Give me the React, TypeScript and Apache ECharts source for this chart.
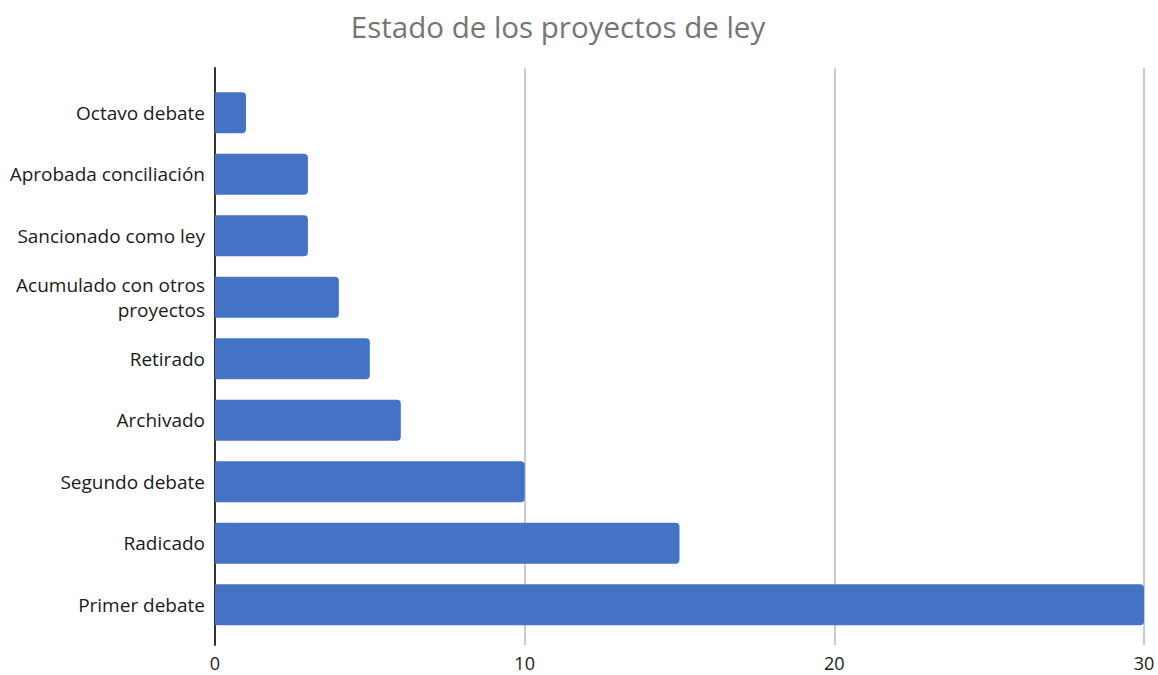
import React, { useEffect, useRef } from "react";
import * as echarts from "echarts";

const categories = [
  "Octavo debate",
  "Aprobada conciliación",
  "Sancionado como ley",
  "Acumulado con otros\nproyectos",
  "Retirado",
  "Archivado",
  "Segundo debate",
  "Radicado",
  "Primer debate",
];
const values = [1, 3, 3, 4, 5, 6, 10, 15, 30];
const xTicks = [0, 10, 20, 30];
const title = "Estado de los proyectos de ley";

export default function App() {
  const ref = useRef<HTMLDivElement>(null);
  useEffect(() => {
    if (!ref.current) return;
    const chart = echarts.init(ref.current, undefined, { renderer: "svg" });
    const font = "'Open Sans', Lato, sans-serif";
    chart.setOption({
      animation: false,
      title: {
        text: title,
        left: 553,
        textAlign: "center",
        top: 6,
        textStyle: { color: "#757575", fontSize: 29.5, fontWeight: "normal", fontFamily: font },
      },
      grid: [
        { left: 215, right: 14, top: 82, height: 553.5, containLabel: false },
        { left: 215, right: 14, top: 68, bottom: 30, containLabel: false },
      ],
      xAxis: [
        { gridIndex: 0, type: "value", min: 0, max: 30, interval: 10, show: false },
        {
          gridIndex: 1,
          type: "value",
          min: xTicks[0],
          max: xTicks[xTicks.length - 1],
          interval: 10,
          axisLine: { show: false },
          axisTick: { show: false },
          axisLabel: { color: "#1a1a1a", fontSize: 18, fontFamily: font, margin: 9 },
          splitLine: { show: true, lineStyle: { color: "#cccccc", width: 2 } },
        },
      ],
      yAxis: [
        {
          gridIndex: 0,
          type: "category",
          data: categories,
          inverse: true,
          axisLine: { show: false },
          axisTick: { show: false },
          axisLabel: {
            color: "#1a1a1a",
            fontSize: 19,
            fontFamily: font,
            margin: 10,
            align: "right",
            lineHeight: 25,
          },
        },
        {
          gridIndex: 1,
          type: "category",
          data: [""],
          axisLine: { show: true, lineStyle: { color: "#333", width: 2 } },
          axisTick: { show: false },
          axisLabel: { show: false },
        },
      ],
      series: [
        {
          type: "bar",
          xAxisIndex: 0,
          yAxisIndex: 0,
          data: values,
          barCategoryGap: "33%",
          itemStyle: { color: "#4472C4", borderRadius: [0, 4, 4, 0] },
        },
      ],
    });
    return () => chart.dispose();
  }, []);
  return <div ref={ref} style={{ width: 1158, height: 675, position: "absolute", left: 0, top: 0 }} />;
}
